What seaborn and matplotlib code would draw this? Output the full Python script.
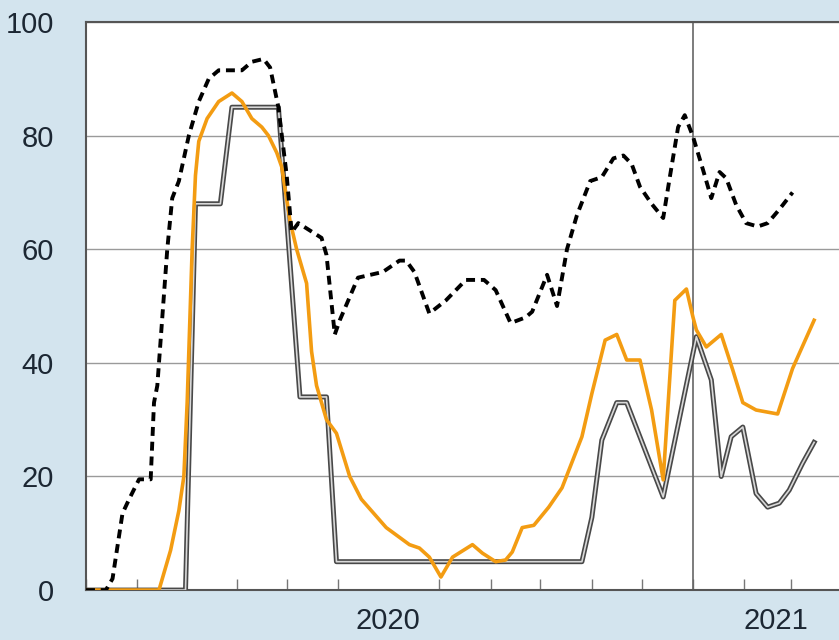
import pandas as pd
import numpy as np
import matplotlib
matplotlib.use('Agg')
import matplotlib.pyplot as plt
import matplotlib.dates as mdates
import seaborn as sns

# Series values
dash_dates = ['2020-01-01', '2020-01-13', '2020-01-17', '2020-01-23', '2020-01-27', '2020-02-02',
              '2020-02-09', '2020-02-11', '2020-02-13', '2020-02-19', '2020-02-22', '2020-02-26',
              '2020-03-03', '2020-03-09', '2020-03-15', '2020-03-21', '2020-04-04', '2020-04-10',
              '2020-04-17', '2020-04-21', '2020-04-26', '2020-05-01', '2020-05-04', '2020-05-08',
              '2020-05-22', '2020-05-25', '2020-05-30', '2020-06-02', '2020-06-13', '2020-06-28',
              '2020-07-08', '2020-07-12', '2020-07-17', '2020-07-26', '2020-08-05', '2020-08-17',
              '2020-08-28', '2020-09-04', '2020-09-13', '2020-09-22', '2020-09-26', '2020-10-05',
              '2020-10-11', '2020-10-17', '2020-10-23', '2020-10-31', '2020-11-07', '2020-11-14',
              '2020-11-20', '2020-11-25', '2020-11-30', '2020-12-07', '2020-12-14', '2020-12-18',
              '2020-12-23', '2020-12-27', '2021-01-01', '2021-01-07', '2021-01-12', '2021-01-17',
              '2021-01-21', '2021-01-27', '2021-02-02', '2021-02-09', '2021-02-15', '2021-02-22',
              '2021-03-02']
dash_vals = [0, 0, 2, 13.5, 16, 19.5,
             19.5, 33, 36, 60, 69, 72,
             80, 86, 90, 91.5, 91.5, 93,
             93.5, 92, 85, 73, 63, 64.6,
             62, 59, 45, 47.5, 55, 56,
             58, 58, 56, 48.7, 51, 54.6,
             54.6, 52.8, 47, 48, 49, 55.5,
             50, 60, 66, 72, 72.7, 76,
             76.5, 75, 71, 68, 65.5, 72.7,
             81.5, 83.6, 79.8, 74, 69, 73.6,
             72.5, 67.8, 64.6, 64, 64.6, 67,
             70]

orange_dates = ['2020-01-01', '2020-02-14', '2020-02-21', '2020-02-26', '2020-02-29', '2020-03-02',
                '2020-03-05', '2020-03-07', '2020-03-09', '2020-03-14', '2020-03-21', '2020-03-29',
                '2020-04-04', '2020-04-10', '2020-04-16', '2020-04-20', '2020-04-25', '2020-04-28',
                '2020-05-03', '2020-05-07', '2020-05-13', '2020-05-16', '2020-05-19', '2020-05-25',
                '2020-05-31', '2020-06-08', '2020-06-15', '2020-06-30', '2020-07-14', '2020-07-20',
                '2020-07-26', '2020-08-02', '2020-08-09', '2020-08-21', '2020-08-27', '2020-09-04',
                '2020-09-10', '2020-09-14', '2020-09-20', '2020-09-27', '2020-10-06', '2020-10-14',
                '2020-10-22', '2020-10-26', '2020-11-01', '2020-11-09', '2020-11-16', '2020-11-22',
                '2020-11-30', '2020-12-07', '2020-12-14', '2020-12-21', '2020-12-28', '2021-01-01',
                '2021-01-03', '2021-01-09', '2021-01-18', '2021-01-25', '2021-01-31', '2021-02-08',
                '2021-02-21', '2021-03-02', '2021-03-15']
orange_vals = [0, 0, 7, 14, 20, 33,
               60, 73, 79, 83, 86, 87.5,
               86, 83, 81.5, 80, 77, 74.5,
               65, 60, 54, 42, 36, 30,
               27.6, 20, 16, 11, 8, 7.4,
               5.8, 2.3, 5.8, 8, 6.5, 5,
               5.3, 6.7, 11, 11.4, 14.6, 18,
               24, 27, 34.6, 44, 45, 40.5,
               40.5, 31.7, 19.4, 51, 53, 48,
               45.8, 42.8, 45, 38.7, 33, 31.7,
               31, 39, 47.5]

gray_dates = ['2020-01-01', '2020-03-01', '2020-03-07', '2020-03-22', '2020-03-29', '2020-04-26',
              '2020-05-09', '2020-05-25', '2020-05-31', '2020-10-26', '2020-11-01', '2020-11-07',
              '2020-11-16', '2020-11-22', '2020-12-14', '2021-01-03', '2021-01-12', '2021-01-18',
              '2021-01-24', '2021-01-31', '2021-02-08', '2021-02-15', '2021-02-22', '2021-02-28',
              '2021-03-08', '2021-03-15']
gray_vals = [0, 0, 68, 68, 85, 85,
             34, 34, 5, 5, 12.8, 26.4,
             33, 33, 16.4, 44.6, 37, 20,
             27, 28.7, 17, 14.6, 15.3, 17.6,
             22.3, 26]

y_ticks = [0, 20, 40, 60, 80, 100]
year_labels = ['2020', '2021']
year_label_dates = ['2020-07-01', '2021-02-20']

df_dash = pd.DataFrame({'date': pd.to_datetime(dash_dates), 'value': dash_vals})
df_orange = pd.DataFrame({'date': pd.to_datetime(orange_dates), 'value': orange_vals})
df_gray = pd.DataFrame({'date': pd.to_datetime(gray_dates), 'value': gray_vals})

bg = '#d3e4ee'
txt = '#1c2733'

fig = plt.figure(figsize=(8.39, 6.4), dpi=100, facecolor=bg)
ax = fig.add_axes([0.1025, 0.078, 0.8975, 0.8876])
ax.set_facecolor('white')

# double (hollow) gray line
sns.lineplot(data=df_gray, x='date', y='value', ax=ax, color='#484848', linewidth=3.6, zorder=3)
sns.lineplot(data=df_gray, x='date', y='value', ax=ax, color='#d9d9d9', linewidth=1.2, zorder=3)
sns.lineplot(data=df_orange, x='date', y='value', ax=ax, color='#f39c12', linewidth=2.6, zorder=4)
sns.lineplot(data=df_dash, x='date', y='value', ax=ax, color='black', linewidth=2.8,
             linestyle=(0, (2.3, 1.5)), zorder=5)

ax.axvline(pd.Timestamp('2021-01-01'), color='#666666', linewidth=1.2, zorder=2)

ax.set_ylim(0, 100)
ax.set_xlim(pd.Timestamp('2020-01-01'), pd.Timestamp('2021-03-30'))
ax.set_yticks(y_ticks)
ax.yaxis.grid(True, color='#9a9a9a', linewidth=1.0)
ax.set_axisbelow(True)

ax.set_xticks(pd.to_datetime(year_label_dates))
ax.set_xticklabels(year_labels)
ax.xaxis.set_minor_locator(mdates.MonthLocator())
ax.tick_params(axis='x', which='major', length=0, pad=12, labelsize=21, labelcolor=txt)
ax.tick_params(axis='x', which='minor', direction='in', length=8, width=1, color='#777777')
ax.tick_params(axis='y', length=0, pad=23, labelsize=21, labelcolor=txt)
for lab in ax.get_xticklabels() + ax.get_yticklabels():
    lab.set_fontfamily('Liberation Sans')

for side in ['left', 'bottom', 'top']:
    ax.spines[side].set_color('#555555')
    ax.spines[side].set_linewidth(1.5)
ax.spines['right'].set_visible(False)
ax.set_xlabel('')
ax.set_ylabel('')

fig.savefig('out.png', dpi=100, facecolor=bg)
